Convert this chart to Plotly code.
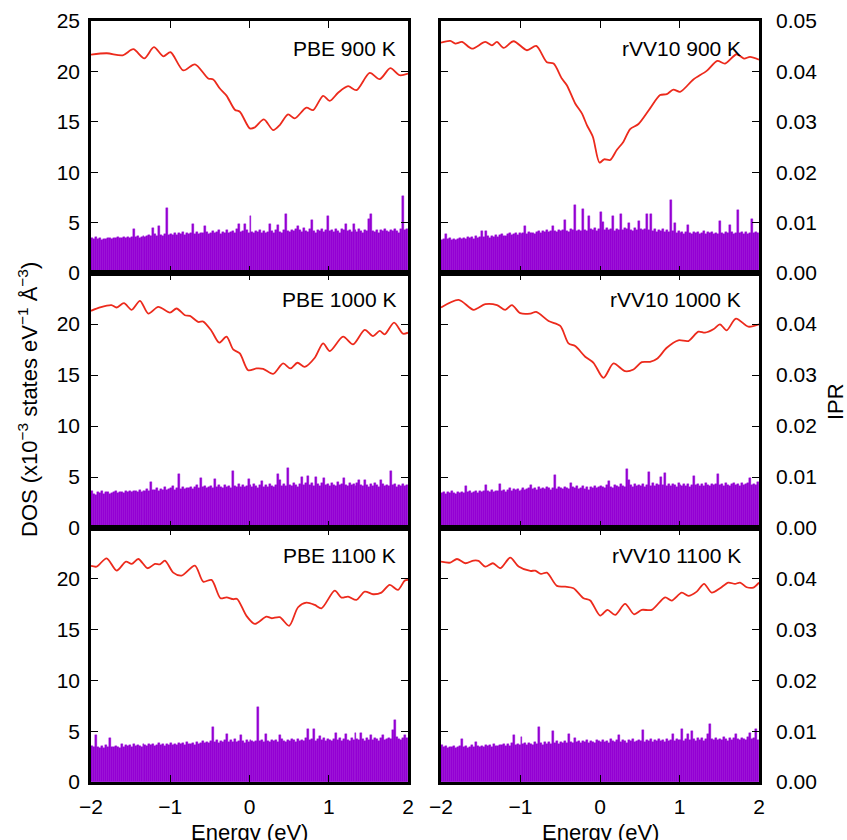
import plotly.graph_objects as go

# DOS curves (x10^-3 states eV^-1 A^-3), energy (eV) at the turning points
pbe900_e = [-2.0, -1.8, -1.6, -1.466, -1.328, -1.206, -1.088, -0.996, -0.836, -0.689, -0.521, -0.458,
            -0.374, -0.29, -0.185, -0.122, 0.004, 0.067, 0.181, 0.298, 0.382, 0.487, 0.571, 0.718,
            0.803, 0.929, 1.013, 1.118, 1.244, 1.349, 1.517, 1.643, 1.777, 1.895, 2.0]
pbe900_dos = [21.67, 21.8, 21.6, 22.2, 21.3, 22.4, 21.5, 21.9, 20.1, 20.7, 19.3, 19.2,
              18.3, 17.6, 16.2, 16.0, 14.35, 14.45, 15.24, 14.18, 14.68, 15.73, 15.34, 16.4,
              16.16, 17.58, 17.08, 17.88, 18.53, 18.14, 19.85, 19.23, 20.32, 19.62, 19.79]

rvv900_e = [-2.0, -1.883, -1.82, -1.736, -1.61, -1.443, -1.359, -1.296, -1.213, -1.087, -0.919, -0.802,
            -0.668, -0.584, -0.48, -0.417, -0.312, -0.228, -0.165, -0.09, -0.006, 0.052, 0.128, 0.211,
            0.295, 0.379, 0.484, 0.63, 0.756, 0.84, 0.923, 1.007, 1.175, 1.342, 1.476, 1.573,
            1.719, 1.811, 1.887, 2.0]
rvv900_dos = [22.86, 23.02, 22.76, 22.92, 22.26, 22.92, 22.59, 22.92, 22.33, 22.99, 22.10, 22.53,
              20.91, 20.78, 19.29, 18.63, 16.82, 15.83, 14.68, 13.52, 10.95, 11.28, 11.21, 12.20,
              13.03, 14.28, 14.78, 16.33, 17.65, 17.74, 18.2, 17.97, 19.2, 20.05, 21.04, 20.78,
              21.70, 21.27, 21.44, 21.17]

pbe1000_e = [-2.0, -1.887, -1.742, -1.679, -1.584, -1.487, -1.382, -1.277, -1.151, -1.004, -0.92, -0.815,
             -0.752, -0.647, -0.584, -0.479, -0.382, -0.29, -0.206, -0.122, -0.017, 0.088, 0.172, 0.298,
             0.424, 0.517, 0.605, 0.697, 0.824, 0.929, 1.013, 1.181, 1.307, 1.454, 1.559, 1.643,
             1.706, 1.824, 1.937, 2.0]
pbe1000_dos = [21.29, 21.62, 21.85, 21.62, 22.04, 21.39, 22.27, 21.02, 21.68, 21.12, 21.52, 20.86,
               20.80, 20.20, 20.24, 19.32, 18.17, 18.76, 17.51, 17.12, 15.47, 15.64, 15.60, 15.11,
               16.13, 15.64, 16.20, 15.80, 16.69, 18.10, 17.35, 18.76, 18.00, 19.42, 18.82, 19.32,
               18.99, 20.14, 19.05, 19.15]

rvv1000_e = [-2.0, -1.778, -1.59, -1.443, -1.296, -1.192, -1.108, -1.003, -0.877, -0.802, -0.647, -0.5,
             -0.396, -0.312, -0.186, -0.082, 0.044, 0.17, 0.316, 0.421, 0.526, 0.63, 0.722, 0.84,
             0.986, 1.112, 1.237, 1.321, 1.426, 1.509, 1.593, 1.71, 1.865, 2.0]
rvv1000_dos = [21.62, 22.37, 21.39, 21.94, 21.85, 21.39, 21.85, 21.06, 21.02, 21.19, 20.30, 19.81,
               18.10, 17.84, 16.79, 16.20, 14.72, 16.13, 15.37, 15.54, 16.26, 16.29, 16.62, 17.67,
               18.40, 18.33, 19.25, 19.15, 19.48, 19.97, 19.38, 20.53, 19.74, 19.97]

pbe1100_e = [-2.0, -1.929, -1.803, -1.676, -1.559, -1.487, -1.403, -1.286, -1.193, -1.13, -1.067, -0.962,
             -0.857, -0.689, -0.584, -0.479, -0.366, -0.29, -0.206, -0.156, -0.038, 0.067, 0.214, 0.277,
             0.382, 0.5, 0.613, 0.718, 0.824, 0.908, 1.076, 1.16, 1.244, 1.349, 1.454, 1.559,
             1.664, 1.769, 1.874, 1.958, 2.0]
pbe1100_dos = [21.27, 21.2, 22.02, 20.81, 21.69, 21.46, 21.95, 21.04, 21.46, 21.43, 21.79, 20.61,
               20.31, 21.30, 19.72, 19.89, 18.09, 18.18, 17.99, 18.02, 16.35, 15.56, 16.28, 16.12,
               16.22, 15.37, 17.20, 17.66, 17.43, 17.10, 18.84, 18.15, 18.25, 17.92, 18.74, 18.48,
               18.64, 19.40, 18.91, 19.82, 19.89]

rvv1100_e = [-2.0, -1.883, -1.799, -1.694, -1.59, -1.527, -1.443, -1.347, -1.254, -1.129, -1.024, -0.877,
             -0.815, -0.743, -0.668, -0.542, -0.438, -0.333, -0.207, -0.123, 0.002, 0.094, 0.191, 0.316,
             0.429, 0.526, 0.651, 0.819, 0.902, 1.028, 1.112, 1.217, 1.309, 1.405, 1.51, 1.614,
             1.698, 1.761, 1.845, 1.929, 2.0]
rvv1100_dos = [21.69, 21.59, 21.95, 21.53, 21.79, 21.76, 21.20, 21.53, 21.04, 22.08, 21.20, 20.77,
               20.81, 20.48, 20.61, 19.30, 19.23, 19.07, 18.09, 17.86, 16.38, 16.94, 16.45, 17.53,
               16.51, 16.94, 16.94, 18.18, 17.86, 18.64, 18.32, 18.74, 19.50, 18.64, 19.07, 19.63,
               19.50, 19.63, 19.17, 19.14, 19.63]

# IPR in units of 1e-4, one bin per 0.025 eV from -2 to 2 eV (160 bins)
pbe900_ipr = [70, 68, 72, 67, 69, 66, 68, 67, 69, 70, 68, 70, 69, 71, 69, 70, 72, 69, 71, 70,
              72, 88, 71, 73, 70, 72, 74, 72, 73, 76, 74, 89, 77, 73, 94, 75, 74, 77, 128, 76,
              78, 75, 79, 76, 80, 77, 82, 76, 79, 78, 80, 98, 78, 82, 77, 80, 79, 94, 81, 78,
              80, 83, 79, 81, 85, 78, 82, 80, 86, 79, 82, 84, 80, 88, 98, 81, 83, 98, 85, 80,
              114, 82, 79, 84, 81, 86, 80, 83, 79, 82, 98, 84, 80, 86, 96, 82, 79, 85, 118, 84,
              81, 86, 83, 88, 94, 85, 82, 90, 84, 81, 87, 105, 83, 80, 86, 84, 88, 82, 85, 114,
              83, 86, 81, 87, 84, 80, 88, 85, 98, 83, 86, 82, 98, 85, 81, 88, 84, 80, 86, 83,
              107, 118, 84, 82, 86, 80, 85, 83, 88, 84, 82, 86, 83, 88, 84, 80, 87, 153, 85, 88]
rvv900_ipr = [66, 68, 78, 67, 69, 65, 68, 66, 67, 70, 68, 70, 67, 72, 69, 71, 68, 73, 70, 72,
              84, 71, 84, 73, 70, 74, 72, 76, 71, 75, 78, 74, 73, 77, 79, 75, 78, 80, 76, 79,
              77, 80, 94, 78, 81, 79, 80, 77, 82, 84, 80, 83, 81, 86, 82, 84, 94, 83, 81, 86,
              83, 85, 106, 84, 82, 87, 85, 134, 83, 86, 84, 127, 86, 83, 114, 88, 85, 90, 84, 87,
              121, 101, 86, 89, 85, 87, 113, 84, 88, 86, 118, 85, 90, 87, 99, 86, 84, 89, 86, 104,
              88, 85, 87, 118, 86, 118, 84, 88, 82, 86, 83, 87, 81, 85, 82, 144, 84, 99, 80, 83,
              79, 82, 78, 81, 96, 80, 77, 82, 79, 81, 78, 80, 83, 77, 81, 79, 82, 78, 80, 77,
              104, 80, 78, 82, 79, 95, 81, 78, 80, 126, 79, 82, 78, 81, 77, 80, 107, 79, 82, 80]
pbe1000_ipr = [72, 66, 65, 70, 68, 72, 67, 70, 71, 66, 69, 70, 73, 68, 71, 70, 69, 72, 71, 73,
               70, 72, 73, 71, 74, 70, 73, 72, 76, 73, 90, 75, 74, 78, 73, 77, 75, 80, 74, 76,
               78, 82, 75, 79, 105, 77, 80, 76, 79, 78, 81, 77, 80, 84, 79, 98, 80, 82, 78, 81,
               83, 79, 97, 80, 84, 81, 78, 85, 80, 82, 79, 112, 83, 80, 86, 81, 84, 80, 82, 97,
               84, 80, 86, 82, 79, 85, 93, 81, 84, 80, 86, 82, 80, 85, 105, 95, 82, 86, 83, 118,
               85, 82, 88, 84, 81, 87, 100, 85, 89, 101, 84, 88, 82, 100, 86, 83, 89, 98, 84, 87,
               82, 88, 85, 83, 90, 84, 86, 98, 85, 82, 88, 84, 86, 83, 89, 95, 85, 82, 95, 84,
               80, 86, 83, 88, 84, 81, 95, 86, 83, 85, 82, 112, 84, 86, 80, 85, 83, 87, 82, 84]
rvv1000_ipr = [68, 70, 67, 71, 69, 72, 68, 66, 70, 69, 71, 68, 83, 70, 72, 68, 71, 73, 69, 72,
               70, 73, 84, 72, 71, 74, 70, 73, 72, 87, 73, 75, 71, 74, 78, 72, 76, 74, 77, 73,
               75, 78, 74, 77, 79, 85, 76, 78, 75, 80, 77, 79, 76, 80, 78, 75, 79, 103, 77, 80,
               78, 76, 81, 79, 77, 88, 80, 78, 82, 76, 79, 83, 77, 80, 75, 81, 78, 82, 79, 81,
               83, 80, 78, 85, 93, 81, 79, 84, 82, 80, 86, 83, 81, 116, 95, 84, 80, 86, 82, 85,
               83, 87, 81, 85, 109, 83, 88, 82, 86, 84, 100, 85, 107, 83, 87, 82, 86, 84, 81, 88,
               84, 82, 87, 83, 86, 81, 85, 101, 84, 87, 82, 86, 83, 88, 85, 82, 87, 84, 86, 105,
               84, 87, 83, 88, 85, 82, 86, 89, 84, 87, 83, 88, 85, 86, 89, 99, 84, 87, 85, 90]
pbe1100_ipr = [70, 68, 92, 69, 67, 70, 66, 72, 68, 86, 69, 68, 70, 69, 67, 75, 68, 73, 70, 72,
               68, 74, 70, 73, 71, 69, 74, 72, 70, 75, 72, 74, 71, 73, 76, 72, 75, 71, 74, 73,
               76, 73, 75, 72, 77, 74, 76, 73, 78, 75, 74, 77, 73, 78, 75, 76, 80, 77, 79, 76,
               80, 108, 78, 82, 77, 81, 79, 83, 95, 78, 82, 79, 84, 78, 81, 92, 80, 77, 82, 79,
               83, 80, 78, 81, 148, 80, 82, 78, 94, 81, 79, 83, 80, 82, 78, 92, 84, 81, 79, 83,
               80, 84, 82, 79, 85, 81, 83, 80, 86, 104, 82, 85, 104, 81, 84, 90, 82, 86, 80, 84,
               83, 81, 85, 97, 82, 86, 80, 84, 94, 83, 81, 86, 83, 97, 84, 82, 97, 85, 81, 86,
               83, 92, 82, 86, 84, 81, 87, 92, 83, 85, 86, 84, 102, 123, 88, 85, 83, 86, 93, 87]
rvv1100_ipr = [72, 68, 70, 67, 69, 68, 70, 67, 69, 71, 84, 68, 70, 66, 69, 72, 68, 78, 70, 69,
               71, 68, 73, 70, 72, 69, 74, 71, 70, 73, 72, 75, 71, 74, 70, 76, 93, 73, 75, 72,
               88, 74, 77, 73, 76, 75, 72, 78, 74, 108, 76, 73, 78, 75, 79, 74, 100, 77, 80, 75,
               78, 76, 80, 77, 94, 79, 76, 86, 78, 81, 77, 80, 78, 82, 76, 81, 79, 77, 83, 80,
               78, 82, 79, 81, 77, 84, 80, 78, 82, 93, 79, 83, 80, 77, 82, 81, 84, 79, 80, 83,
               81, 103, 79, 83, 80, 84, 78, 82, 81, 85, 80, 83, 79, 84, 81, 82, 94, 80, 84, 82,
               83, 105, 81, 85, 95, 82, 101, 84, 80, 86, 83, 87, 81, 85, 95, 115, 84, 82, 86, 83,
               85, 82, 88, 84, 81, 87, 83, 86, 94, 84, 82, 87, 85, 83, 88, 97, 84, 86, 105, 82]

labels = ["PBE 900 K", "rVV10 900 K", "PBE 1000 K", "rVV10 1000 K", "PBE 1100 K", "rVV10 1100 K"]
panels = [
    (pbe900_e, pbe900_dos, pbe900_ipr),
    (rvv900_e, rvv900_dos, rvv900_ipr),
    (pbe1000_e, pbe1000_dos, pbe1000_ipr),
    (rvv1000_e, rvv1000_dos, rvv1000_ipr),
    (pbe1100_e, pbe1100_dos, pbe1100_ipr),
    (rvv1100_e, rvv1100_dos, rvv1100_ipr),
]

RED = "#ec2a1c"
PURPLE = "#9400d3"
FONT = "Liberation Sans, Arial, Helvetica, sans-serif"
W, H = 847, 840
BIN = 0.025

# pixel boxes of the panels
cols = [(91, 408), (441, 759)]
rows = [(21, 273), (273, 528), (528, 782)]

fig = go.Figure()
layout = {}
annotations = []

for k, (e, dos, ipr) in enumerate(panels):
    r, c = k // 2, k % 2
    xa = "x" if k == 0 else f"x{k + 1}"
    ya = f"y{2 * k + 1}" if k else "y"
    yb = f"y{2 * k + 2}"

    fig.add_trace(go.Bar(
        x0=-2 + BIN / 2, dx=BIN, y=[v * 1e-4 for v in ipr], width=BIN,
        marker=dict(color=PURPLE, line=dict(color=PURPLE, width=0.4)),
        xaxis=xa, yaxis=yb, showlegend=False, hoverinfo="skip",
    ))
    fig.add_trace(go.Scatter(
        x=e, y=dos, mode="lines",
        line=dict(color=RED, width=1.8, shape="spline", smoothing=0.8),
        xaxis=xa, yaxis=ya, showlegend=False,
    ))

    x0, x1 = cols[c]
    y0, y1 = rows[r]
    layout["xaxis" if k == 0 else f"xaxis{k + 1}"] = dict(
        domain=[x0 / W, x1 / W], range=[-2, 2], anchor=ya,
        tickmode="linear", tick0=0, dtick=1,
        ticks="inside", ticklen=7, tickwidth=1.2, tickcolor="black",
        mirror="ticks", showline=True, linewidth=2.5, linecolor="black",
        showgrid=False, zeroline=False, showticklabels=(r == 2),
        tickfont=dict(size=21), ticklabelstandoff=4, automargin=False,
    )
    top = 25 if r == 0 else 20
    layout["yaxis" if k == 0 else f"yaxis{2 * k + 1}"] = dict(
        domain=[1 - y1 / H, 1 - y0 / H], range=[0, 25], anchor=xa,
        tickmode="array", tickvals=list(range(0, top + 1, 5)),
        ticks="inside", ticklen=7, tickwidth=1.2, tickcolor="black",
        mirror="ticks", showline=True, linewidth=2.5, linecolor="black",
        showgrid=False, zeroline=False, showticklabels=(c == 0),
        tickfont=dict(size=21), ticklabelstandoff=4, automargin=False,
    )
    ipr_ticks = [0, 0.01, 0.02, 0.03, 0.04] + ([0.05] if r == 0 else [])
    layout[f"yaxis{2 * k + 2}"] = dict(
        overlaying=ya, anchor=xa, side="right", range=[0, 0.05],
        tickmode="array", tickvals=ipr_ticks, tickformat=".2f",
        ticks="", showline=False, showgrid=False, zeroline=False,
        showticklabels=(c == 1), tickfont=dict(size=21), ticklabelstandoff=16,
        automargin=False,
    )

    annotations.append(dict(
        text=labels[k], xref=f"{xa} domain", yref=f"{ya} domain",
        x=0.968 if c == 0 else 0.95, y=1 - 27 / (y1 - y0),
        xanchor="right", yanchor="middle", showarrow=False, font=dict(size=21),
    ))

annotations += [
    dict(text="DOS (x10<sup>\u22123</sup> states eV<sup>\u22121</sup> \u00c5<sup>\u22123</sup>)",
         xref="paper", yref="paper", x=28 / W, y=1 - 400 / H, textangle=-90,
         xanchor="center", yanchor="middle", showarrow=False, font=dict(size=22)),
    dict(text="IPR", xref="paper", yref="paper", x=835 / W, y=1 - 402 / H, textangle=-90,
         xanchor="center", yanchor="middle", showarrow=False, font=dict(size=22)),
    dict(text="Energy (eV)", xref="paper", yref="paper", x=249.5 / W, y=1 - 818 / H,
         xanchor="center", yanchor="top", showarrow=False, font=dict(size=22)),
    dict(text="Energy (eV)", xref="paper", yref="paper", x=600 / W, y=1 - 818 / H,
         xanchor="center", yanchor="top", showarrow=False, font=dict(size=22)),
]

fig.update_layout(
    width=W, height=H,
    margin=dict(l=0, r=0, t=0, b=0, autoexpand=False),
    paper_bgcolor="white", plot_bgcolor="white",
    font=dict(family=FONT, color="black", size=21),
    bargap=0, showlegend=False,
    annotations=annotations,
    **layout,
)

# the page's default body margin would shift the figure by a few pixels
fig.write_html("out.html", config={"displayModeBar": False},
               post_script="document.body.style.margin = '0';")
